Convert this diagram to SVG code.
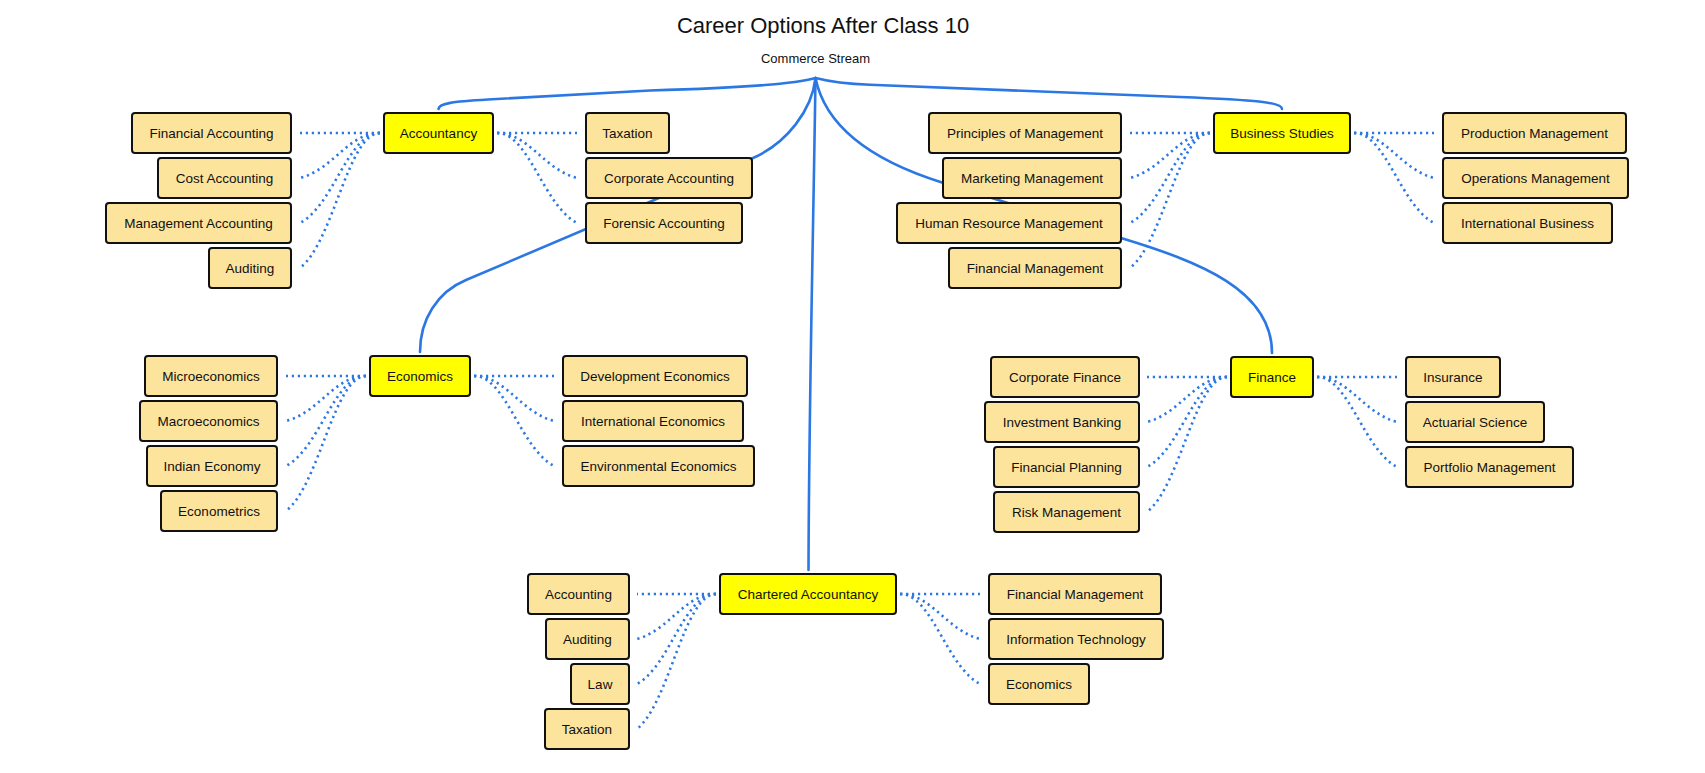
<svg xmlns="http://www.w3.org/2000/svg" width="1705" height="773" viewBox="0 0 1705 773">
<style>
text{font-family:"Liberation Sans","Open Sans",Arial,sans-serif;fill:#111;}
.t{font-size:13.5px;text-anchor:middle;dominant-baseline:central;}
.title{font-size:22px;text-anchor:middle;}
.sub{font-size:13px;text-anchor:middle;}
.c rect{fill:#fde49c;stroke:#111;stroke-width:2;}
.p rect{fill:#ffff00;stroke:#111;stroke-width:2;}
.main{fill:none;stroke:#2b78e4;stroke-width:2.6;stroke-linecap:round;}
.dot{fill:none;stroke:#2b78e4;stroke-width:2.6;stroke-dasharray:2.2 3.8;}
</style>
<rect width="1705" height="773" fill="#ffffff"/>
<text class="title" x="823" y="33">Career Options After Class 10</text>
<text class="sub" x="815.5" y="63">Commerce Stream</text>

<g id="connectors">
  <path class="main" d="M815.5,78 C795,84 740,88 650,90.5 L488,99.5 C450,101.5 439,104 438.5,109"/>
  <path class="main" d="M815.5,78 C835,83 850,84 870,84.8 L1180,97 C1255,100 1282,102 1282,109"/>
  <path class="main" d="M815.5,78 C812,110 787,143 753,158 L466,280 C437,292 420,320 420,352"/>
  <path class="main" d="M815.5,78 C825,125 870,160 942.7,182.7 L1121,238 C1200,262 1272,290 1272,353"/>
  <path class="main" d="M815.5,78 C813,250 809,400 808.5,570"/>

  <path class="dot" d="M380,133 L300,133"/>
  <path class="dot" d="M380,133 C348,133 334,169 300,178"/>
  <path class="dot" d="M380,133 C348,133 334,205 300,223"/>
  <path class="dot" d="M380,133 C348,133 334,241 300,268"/>
  <path class="dot" d="M497,133 L577,133"/>
  <path class="dot" d="M497,133 C529,133 543,169 577,178"/>
  <path class="dot" d="M497,133 C529,133 543,205 577,223"/>

  <path class="dot" d="M1210,133 L1130,133"/>
  <path class="dot" d="M1210,133 C1178,133 1164,169 1130,178"/>
  <path class="dot" d="M1210,133 C1178,133 1164,205 1130,223"/>
  <path class="dot" d="M1210,133 C1178,133 1164,241 1130,268"/>
  <path class="dot" d="M1354,133 L1434,133"/>
  <path class="dot" d="M1354,133 C1386,133 1400,169 1434,178"/>
  <path class="dot" d="M1354,133 C1386,133 1400,205 1434,223"/>

  <path class="dot" d="M366,376 L286,376"/>
  <path class="dot" d="M366,376 C334,376 320,412 286,421"/>
  <path class="dot" d="M366,376 C334,376 320,448 286,466"/>
  <path class="dot" d="M366,376 C334,376 320,484 286,511"/>
  <path class="dot" d="M474,376 L554,376"/>
  <path class="dot" d="M474,376 C506,376 520,412 554,421"/>
  <path class="dot" d="M474,376 C506,376 520,448 554,466"/>

  <path class="dot" d="M1227,377 L1147,377"/>
  <path class="dot" d="M1227,377 C1195,377 1181,413 1147,422"/>
  <path class="dot" d="M1227,377 C1195,377 1181,449 1147,467"/>
  <path class="dot" d="M1227,377 C1195,377 1181,485 1147,512"/>
  <path class="dot" d="M1317,377 L1397,377"/>
  <path class="dot" d="M1317,377 C1349,377 1363,413 1397,422"/>
  <path class="dot" d="M1317,377 C1349,377 1363,449 1397,467"/>

  <path class="dot" d="M716,594 L637,594"/>
  <path class="dot" d="M716,594 C684,594 670,630 637,639"/>
  <path class="dot" d="M716,594 C684,594 670,666 637,684"/>
  <path class="dot" d="M716,594 C684,594 670,702 637,729"/>
  <path class="dot" d="M900,594 L980,594"/>
  <path class="dot" d="M900,594 C932,594 946,630 980,639"/>
  <path class="dot" d="M900,594 C932,594 946,666 980,684"/>
</g>

<!-- Accountancy -->
<g id="accountancy" class="p"><rect x="384" y="113" width="109" height="40" rx="3"/><text class="t" x="438.5" y="133">Accountancy</text></g>
<g id="acc-financial" class="c"><rect x="132" y="113" width="159" height="40" rx="3"/><text class="t" x="211.5" y="133">Financial Accounting</text></g>
<g id="acc-cost" class="c"><rect x="158" y="158" width="133" height="40" rx="3"/><text class="t" x="224.5" y="178">Cost Accounting</text></g>
<g id="acc-management" class="c"><rect x="106" y="203" width="185" height="40" rx="3"/><text class="t" x="198.5" y="223">Management Accounting</text></g>
<g id="acc-auditing" class="c"><rect x="209" y="248" width="82" height="40" rx="3"/><text class="t" x="250" y="268">Auditing</text></g>
<g id="acc-taxation" class="c"><rect x="586" y="113" width="83" height="40" rx="3"/><text class="t" x="627.5" y="133">Taxation</text></g>
<g id="acc-corporate" class="c"><rect x="586" y="158" width="166" height="40" rx="3"/><text class="t" x="669" y="178">Corporate Accounting</text></g>
<g id="acc-forensic" class="c"><rect x="586" y="203" width="156" height="40" rx="3"/><text class="t" x="664" y="223">Forensic Accounting</text></g>

<!-- Business Studies -->
<g id="business" class="p"><rect x="1214" y="113" width="136" height="40" rx="3"/><text class="t" x="1282" y="133">Business Studies</text></g>
<g id="bs-principles" class="c"><rect x="929" y="113" width="192" height="40" rx="3"/><text class="t" x="1025" y="133">Principles of Management</text></g>
<g id="bs-marketing" class="c"><rect x="943" y="158" width="178" height="40" rx="3"/><text class="t" x="1032" y="178">Marketing Management</text></g>
<g id="bs-hr" class="c"><rect x="897" y="203" width="224" height="40" rx="3"/><text class="t" x="1009" y="223">Human Resource Management</text></g>
<g id="bs-financial" class="c"><rect x="949" y="248" width="172" height="40" rx="3"/><text class="t" x="1035" y="268">Financial Management</text></g>
<g id="bs-production" class="c"><rect x="1443" y="113" width="183" height="40" rx="3"/><text class="t" x="1534.5" y="133">Production Management</text></g>
<g id="bs-operations" class="c"><rect x="1443" y="158" width="185" height="40" rx="3"/><text class="t" x="1535.5" y="178">Operations Management</text></g>
<g id="bs-international" class="c"><rect x="1443" y="203" width="169" height="40" rx="3"/><text class="t" x="1527.5" y="223">International Business</text></g>

<!-- Economics -->
<g id="economics" class="p"><rect x="370" y="356" width="100" height="40" rx="3"/><text class="t" x="420" y="376">Economics</text></g>
<g id="eco-micro" class="c"><rect x="145" y="356" width="132" height="40" rx="3"/><text class="t" x="211" y="376">Microeconomics</text></g>
<g id="eco-macro" class="c"><rect x="140" y="401" width="137" height="40" rx="3"/><text class="t" x="208.5" y="421">Macroeconomics</text></g>
<g id="eco-indian" class="c"><rect x="147" y="446" width="130" height="40" rx="3"/><text class="t" x="212" y="466">Indian Economy</text></g>
<g id="eco-econometrics" class="c"><rect x="161" y="491" width="116" height="40" rx="3"/><text class="t" x="219" y="511">Econometrics</text></g>
<g id="eco-development" class="c"><rect x="563" y="356" width="184" height="40" rx="3"/><text class="t" x="655" y="376">Development Economics</text></g>
<g id="eco-international" class="c"><rect x="563" y="401" width="180" height="40" rx="3"/><text class="t" x="653" y="421">International Economics</text></g>
<g id="eco-environmental" class="c"><rect x="563" y="446" width="191" height="40" rx="3"/><text class="t" x="658.5" y="466">Environmental Economics</text></g>

<!-- Finance -->
<g id="finance" class="p"><rect x="1231" y="357" width="82" height="40" rx="3"/><text class="t" x="1272" y="377">Finance</text></g>
<g id="fin-corporate" class="c"><rect x="991" y="357" width="148" height="40" rx="3"/><text class="t" x="1065" y="377">Corporate Finance</text></g>
<g id="fin-investment" class="c"><rect x="985" y="402" width="154" height="40" rx="3"/><text class="t" x="1062" y="422">Investment Banking</text></g>
<g id="fin-planning" class="c"><rect x="994" y="447" width="145" height="40" rx="3"/><text class="t" x="1066.5" y="467">Financial Planning</text></g>
<g id="fin-risk" class="c"><rect x="994" y="492" width="145" height="40" rx="3"/><text class="t" x="1066.5" y="512">Risk Management</text></g>
<g id="fin-insurance" class="c"><rect x="1406" y="357" width="94" height="40" rx="3"/><text class="t" x="1453" y="377">Insurance</text></g>
<g id="fin-actuarial" class="c"><rect x="1406" y="402" width="138" height="40" rx="3"/><text class="t" x="1475" y="422">Actuarial Science</text></g>
<g id="fin-portfolio" class="c"><rect x="1406" y="447" width="167" height="40" rx="3"/><text class="t" x="1489.5" y="467">Portfolio Management</text></g>

<!-- Chartered Accountancy -->
<g id="ca" class="p"><rect x="720" y="574" width="176" height="40" rx="3"/><text class="t" x="808" y="594">Chartered Accountancy</text></g>
<g id="ca-accounting" class="c"><rect x="528" y="574" width="101" height="40" rx="3"/><text class="t" x="578.5" y="594">Accounting</text></g>
<g id="ca-auditing" class="c"><rect x="546" y="619" width="83" height="40" rx="3"/><text class="t" x="587.5" y="639">Auditing</text></g>
<g id="ca-law" class="c"><rect x="571" y="664" width="58" height="40" rx="3"/><text class="t" x="600" y="684">Law</text></g>
<g id="ca-taxation" class="c"><rect x="545" y="709" width="84" height="40" rx="3"/><text class="t" x="587" y="729">Taxation</text></g>
<g id="ca-financial" class="c"><rect x="989" y="574" width="172" height="40" rx="3"/><text class="t" x="1075" y="594">Financial Management</text></g>
<g id="ca-it" class="c"><rect x="989" y="619" width="174" height="40" rx="3"/><text class="t" x="1076" y="639">Information Technology</text></g>
<g id="ca-economics" class="c"><rect x="989" y="664" width="100" height="40" rx="3"/><text class="t" x="1039" y="684">Economics</text></g>
</svg>
